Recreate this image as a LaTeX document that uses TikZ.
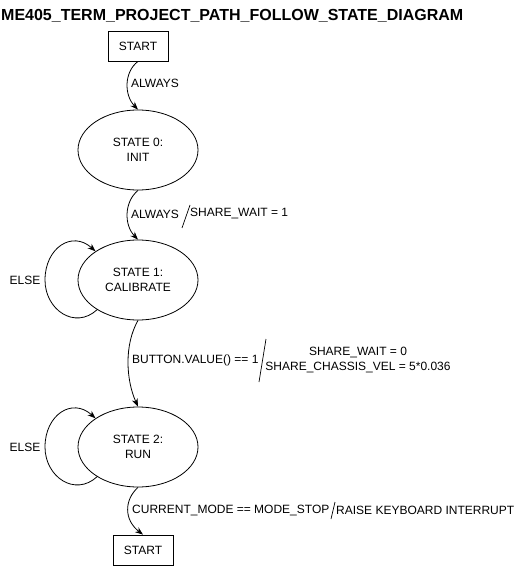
\documentclass[tikz,border=0pt]{standalone}
\usepackage{fontspec}
\setmainfont{Liberation Sans}
\usetikzlibrary{arrows.meta,shapes.geometric}
\begin{document}
\begin{tikzpicture}[x=1pt,y=-1pt,
  txt/.style={font=\fontsize{12}{14.4}\selectfont, inner sep=0pt},
  lbl/.style={txt, anchor=west},
  statebox/.style={draw, line width=0.8pt, minimum width=60pt, minimum height=30pt, inner sep=0pt, font=\fontsize{12}{14.4}\selectfont},
  stateell/.style={draw, line width=0.8pt, ellipse, minimum width=120pt, minimum height=80pt, inner sep=0pt, align=center, font=\fontsize{12}{14.4}\selectfont},
  conn/.style={line width=0.8pt, -{Stealth[length=8pt,width=6pt]}},
  sep/.style={line width=0.7pt}
]
\useasboundingbox (0,0) rectangle (525,569);
\fill[white] (0,0) rectangle (525,569);

\node[anchor=west, inner sep=0pt, font=\fontsize{16}{19}\selectfont\bfseries] (title) at (1,16) {ME405\_TERM\_PROJECT\_PATH\_FOLLOW\_STATE\_DIAGRAM};

\node[statebox] (start) at (138,46) {START};
\node[stateell] (s0) at (138,150) {STATE 0:\\INIT};
\node[stateell] (s1) at (138,280) {STATE 1:\\CALIBRATE};
\node[stateell] (s2) at (138,447) {STATE 2:\\RUN};
\node[statebox] (end) at (143,550) {START};

% START -> S0
\draw[conn] (start.south) .. controls (124,72) and (124,95) .. (s0.north);
\node[lbl] (l0) at (131,83) {ALWAYS};

% S0 -> S1
\draw[conn] (s0.south) .. controls (124,202) and (124,225) .. (s1.north);
\node[lbl] (l1a) at (131,214) {ALWAYS};
\draw[sep] (182,228) -- (190,205);
\node[lbl] (l1b) at (190,214) {SHARE\_WAIT = 1};

% S1 self loop
\draw[conn] (s1.216) .. controls (75,330) and (45,310) .. (45,280) .. controls (45,248) and (72,230) .. (s1.146);
\node[txt] (else1) at (25,280) {ELSE};

% S1 -> S2
\draw[conn] (s1.south) .. controls (124,345) and (126,380) .. (s2.north);
\node[lbl] (l2a) at (132,360) {BUTTON.VALUE() == 1};
\draw[sep] (259,382) -- (266,339);
\node[txt, align=center] (l2b) at (358,360) {SHARE\_WAIT = 0\\SHARE\_CHASSIS\_VEL = 5*0.036};

% S2 self loop
\draw[conn] (s2.216) .. controls (75,497) and (45,477) .. (45,447) .. controls (45,415) and (72,397) .. (s2.146);
\node[txt] (else2) at (25,447) {ELSE};

% S2 -> END
\draw[conn] (s2.south) .. controls (124,500) and (124,520) .. (end.north);
\node[lbl] (l3a) at (132,510) {CURRENT\_MODE == MODE\_STOP};
\draw[sep] (331,519) -- (335,502);
\node[lbl] (l3b) at (336,510) {RAISE KEYBOARD INTERRUPT};
\end{tikzpicture}
\end{document}
